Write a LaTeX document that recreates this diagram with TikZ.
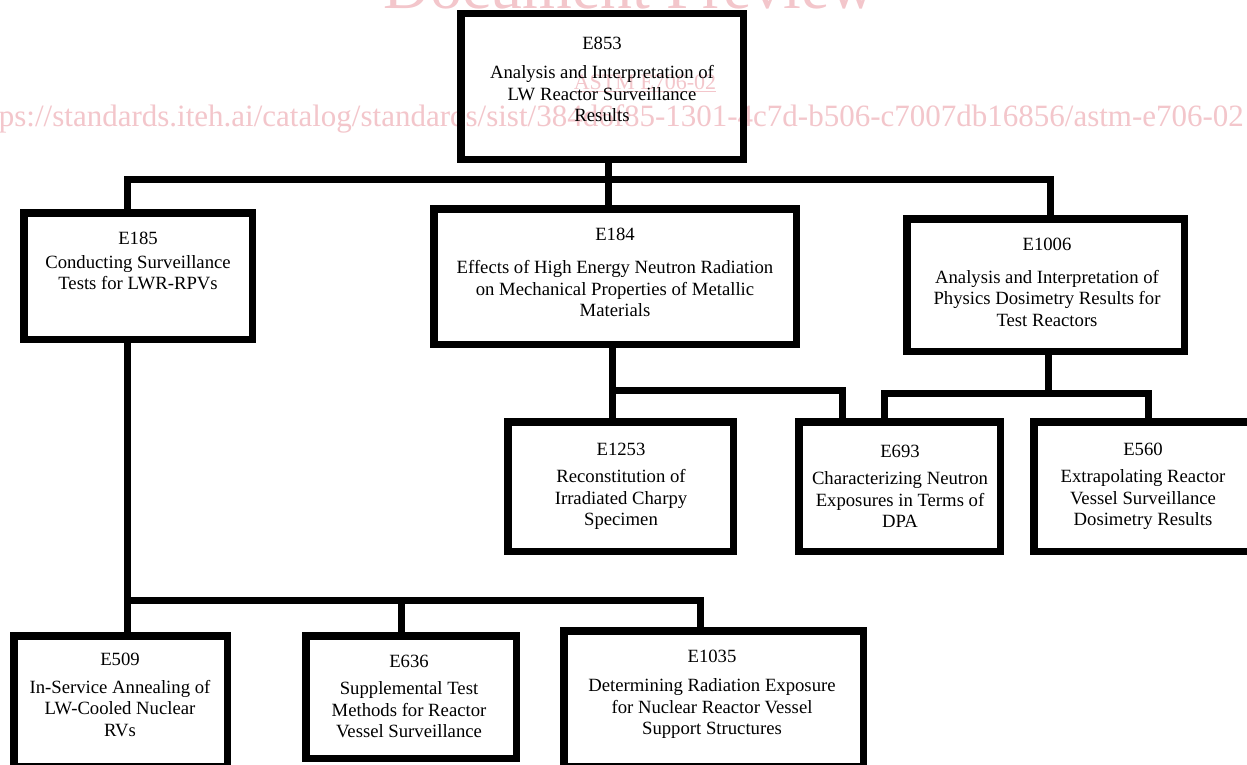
\documentclass[tikz,border=0pt]{standalone}
\usepackage{fontspec}
\setmainfont{Liberation Serif}
\definecolor{wmpink}{RGB}{243,198,203}
\begin{document}
\begin{tikzpicture}[x=1pt,y=-1pt,
  box/.style={draw=black,line width=7.5pt,inner sep=0pt,line join=miter},
  txt/.style={font=\fontsize{18.7}{21.5}\selectfont,align=center,inner sep=0pt},
  conn/.style={line width=7pt,line join=miter},
  wm/.style={text=wmpink,inner sep=0pt}]
\useasboundingbox (0,0) rectangle (1247,765);
\fill[white] (0,0) rectangle (1247,765);
\clip (0,0) rectangle (1247,765);

% watermark
\node[wm,font=\fontsize{64}{64}\selectfont,anchor=base] (wmdoc) at (630,9) {Document Preview};
\node[wm,font=\fontsize{22}{22}\selectfont,anchor=base] (wmastm) at (645,90) {\underline{ASTM E706-02}};
\node[wm,font=\fontsize{31}{31}\selectfont,anchor=base west] (wmurl) at (-34,127) {https://standards.iteh.ai/catalog/standards/sist/384d6f85-1301-4c7d-b506-c7007db16856/astm-e706-02};

% boxes (frames)
\node[box,minimum width=282.5pt,minimum height=145.5pt] (e853) at (602,86.5) {};
\node[box,minimum width=228.5pt,minimum height=126.5pt] (e185) at (138,276) {};
\node[box,minimum width=362.5pt,minimum height=135.5pt] (e184) at (615,276.5) {};
\node[box,minimum width=277.5pt,minimum height=132.5pt] (e1006) at (1045.5,285) {};
\node[box,minimum width=225.5pt,minimum height=129.5pt] (e1253) at (620.5,486.5) {};
\node[box,minimum width=201.5pt,minimum height=129.5pt] (e693) at (899.5,486.5) {};
\node[box,minimum width=224.5pt,minimum height=129.5pt] (e560) at (1146,486.5) {};
\node[box,minimum width=213.5pt,minimum height=130.5pt] (e509) at (120.5,701) {};
\node[box,minimum width=210.5pt,minimum height=122.5pt] (e636) at (411,697) {};
\node[box,minimum width=299.5pt,minimum height=135.5pt] (e1035) at (713.5,698.5) {};

% texts
\node[txt] (t853) at (602,79.5) {E853\\[8pt]Analysis and Interpretation of\\LW Reactor Surveillance\\Results};
\node[txt] (t185) at (138,261) {E185\\[2pt]Conducting Surveillance\\Tests for LWR-RPVs};
\node[txt] (t184) at (615,272.5) {E184\\[12pt]Effects of High Energy Neutron Radiation\\on Mechanical Properties of Metallic\\Materials};
\node[txt] (t1006) at (1047,282.5) {E1006\\[11pt]Analysis and Interpretation of\\Physics Dosimetry Results for\\Test Reactors};
\node[txt] (t1253) at (621,486.5) {E1253\\[6pt]Reconstitution of\\Irradiated Charpy\\Specimen};
\node[txt] (t693) at (900,486.5) {E693\\[6pt]Characterizing Neutron\\Exposures in Terms of\\DPA};
\node[txt] (t560) at (1143,486.5) {E560\\[6pt]Extrapolating Reactor\\Vessel Surveillance\\Dosimetry Results};
\node[txt] (t509) at (120,695) {E509\\[6pt]In-Service Annealing of\\LW-Cooled Nuclear\\RVs};
\node[txt] (t636) at (409,696.5) {E636\\[6pt]Supplemental Test\\Methods for Reactor\\Vessel Surveillance};
\node[txt] (t1035) at (712,694.5) {E1035\\[8pt]Determining Radiation Exposure\\for Nuclear Reactor Vessel\\Support Structures};

% top bus
\coordinate (busL) at (127,179);
\coordinate (busM) at (608,179);
\coordinate (busR) at (1050,179);
\draw[conn] (busL |- e185.north) -- (busL) -- (busR) -- (busR |- e1006.north);
\draw[conn] (busM |- e853.south) -- (busM |- e184.north);

% E184 sub-bus
\coordinate (sa) at (612,390);
\coordinate (sb) at (842,390);
\draw[conn] (sa |- e184.south) -- (sa |- e1253.north);
\draw[conn] (sa) -- (sb) -- (sb |- e693.north);

% E1006 sub-bus
\coordinate (sc) at (884,393);
\coordinate (sm) at (1048,393);
\coordinate (sd) at (1148,393);
\draw[conn] (sm |- e1006.south) -- (sm);
\draw[conn] (sc |- e693.north) -- (sc) -- (sd) -- (sd |- e560.north);

% bottom bus
\coordinate (bb) at (127,600);
\coordinate (bm) at (401,600);
\coordinate (be) at (700,600);
\draw[conn] (bb |- e185.south) -- (bb |- e509.north);
\draw[conn] (bb) -- (be) -- (be |- e1035.north);
\draw[conn] (bm) -- (bm |- e636.north);
\end{tikzpicture}
\end{document}
